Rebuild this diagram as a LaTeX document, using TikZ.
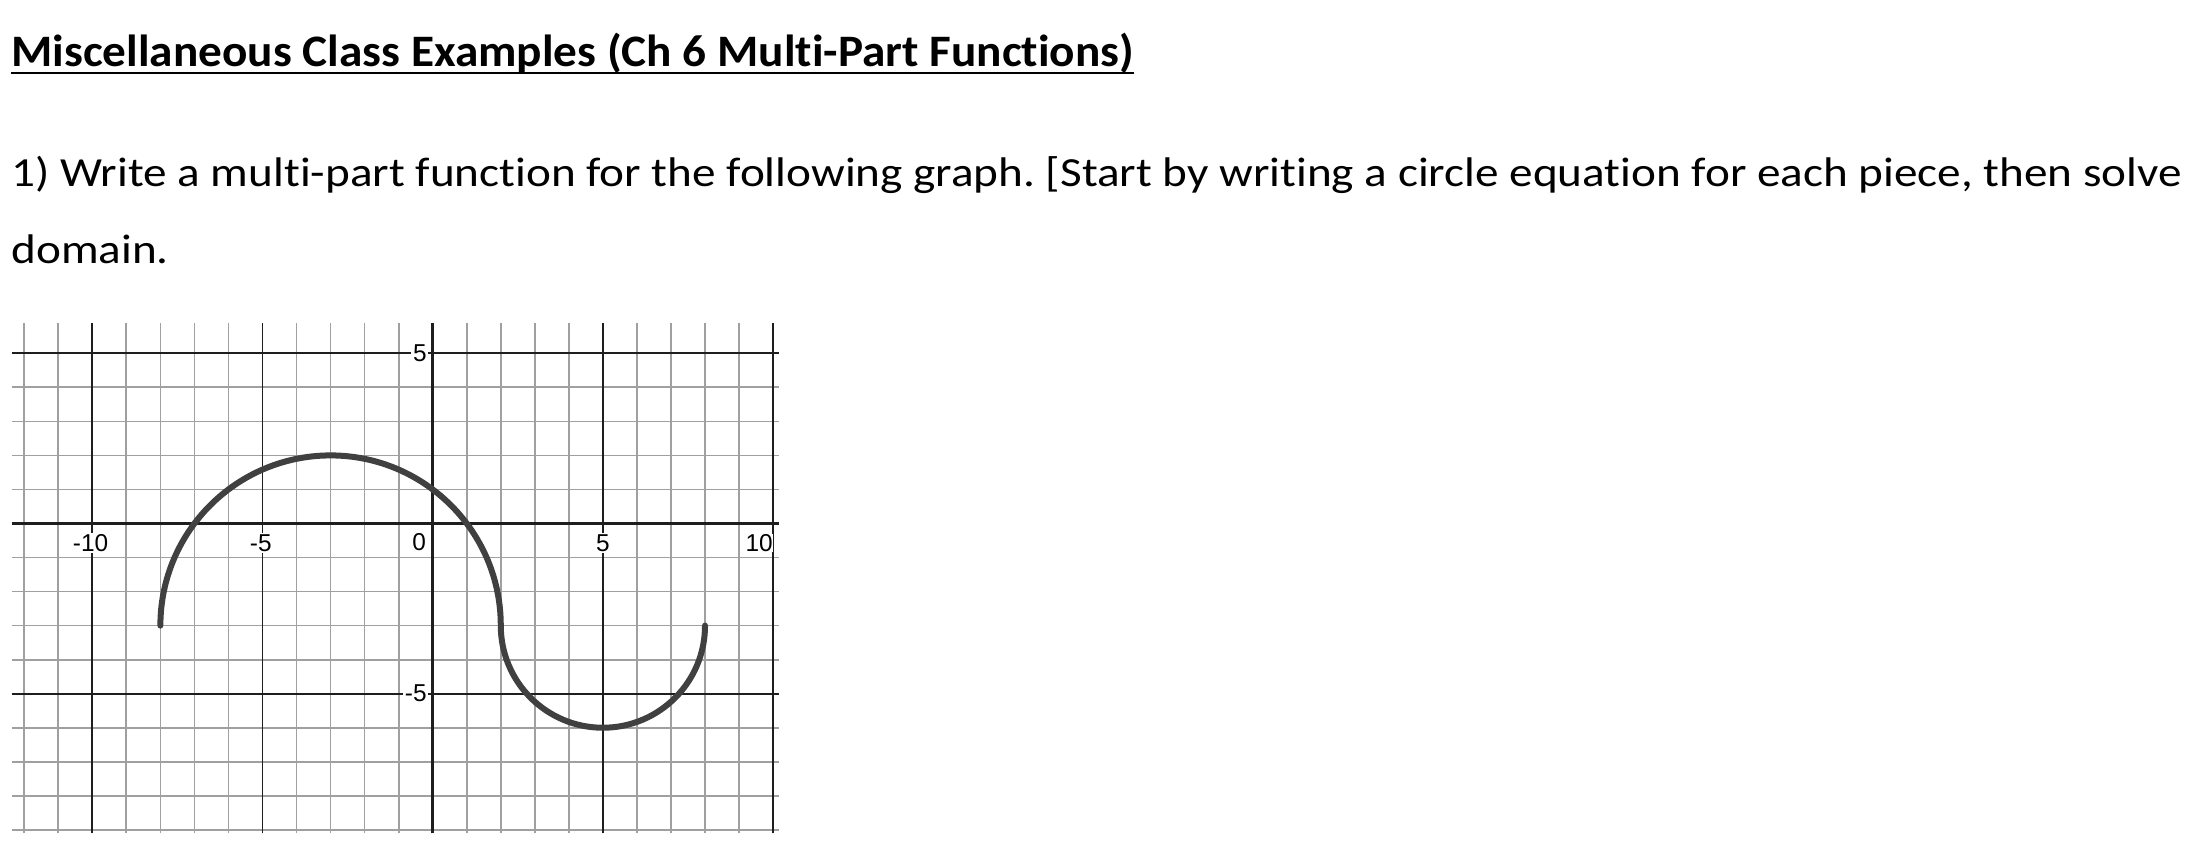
\documentclass[tikz,border=0pt]{standalone}
\usepackage{fontspec}
\setmainfont{Carlito}[Ligatures={NoCommon}]
\newfontfamily\labelfont{Liberation Sans}
\frenchspacing
\definecolor{gridgray}{HTML}{A0A0A0}
\definecolor{majorgray}{HTML}{1E1E1E}
\definecolor{curvegray}{HTML}{404040}
\tikzset{
  gridline/.style={draw=gridgray, line width=0.85pt},
  majorline/.style={draw=majorgray, line width=0.9pt},
  axisline/.style={draw=majorgray, line width=1.5pt},
  curveline/.style={draw=curvegray, line width=3pt, line cap=round},
  ticklabel/.style={font=\labelfont\fontsize{12.2pt}{14pt}\selectfont, fill=white, inner sep=0.8pt},
  titletext/.style={anchor=base west, inner sep=0pt, font=\bfseries\fontsize{22.5pt}{27pt}\selectfont},
  bodytext/.style={anchor=base west, inner sep=0pt, font=\fontsize{20.7pt}{25pt}\selectfont}
}
\begin{document}
\begin{tikzpicture}[x=0.5pt,y=-0.5pt]
\useasboundingbox (0,0) rectangle (2202,860);
% texts
\node[titletext] (title) at (11,67) {\scalebox{1.05}[1]{Miscellaneous Class Examples (Ch 6 Multi-Part Functions)}};
\draw[line width=1pt] ([yshift=-2.85pt]title.base west) -- ([yshift=-2.85pt]title.base east);
\node[bodytext] (line1) at (11,186.7) {\scalebox{1.14}[1]{1) Write a multi-part function for the following graph. [Start by writing a circle equation for each piece, then solve}};
\node[bodytext] (line2) at (11,263.3) {\scalebox{1.14}[1]{domain.}};
% graph
\coordinate (O) at (432.7,523.5);
\begin{scope}[shift={(O)}, x=17.02pt, y=17.02pt]
  \foreach \i in {-12,...,10} \draw[gridline] (\i,-9.1) -- (\i,5.9);
  \foreach \j in {-9,...,5} \draw[gridline] (-12.37,\j) -- (10.16,\j);
  \foreach \i in {-10,-5,5,10} \draw[majorline] (\i,-9.1) -- (\i,5.9);
  \foreach \j in {-5,5} \draw[majorline] (-12.37,\j) -- (10.16,\j);
  \draw[axisline] (0,-9.1) -- (0,5.9);
  \draw[axisline] (-12.37,0) -- (10.16,0);
  % tick labels
  \node[ticklabel] (xm10) at (-10.05,-0.57) {-10};
  \node[ticklabel] (xm5) at (-5.05,-0.57) {-5};
  \node[ticklabel] (x0) at (-0.4,-0.55) {0};
  \node[ticklabel] (x5) at (5,-0.57) {5};
  \node[ticklabel, anchor=east, inner sep=0pt] (x10) at (10,-0.57) {10};
  \node[ticklabel, anchor=east] (y5) at (-0.12,5) {5};
  \node[ticklabel, anchor=east] (ym5) at (-0.12,-5) {-5};
  % curve
  \draw[curveline] (-8,-3) arc[start angle=180, end angle=0, radius=5]
                   arc[start angle=180, end angle=360, radius=3];
\end{scope}
\end{tikzpicture}
\end{document}
